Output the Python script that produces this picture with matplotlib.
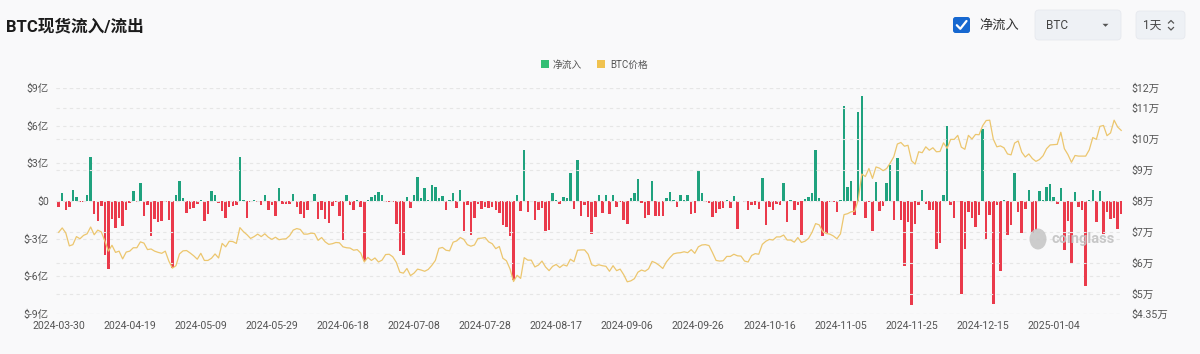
import matplotlib
matplotlib.use('Agg')
import matplotlib.pyplot as plt
from matplotlib.patches import FancyBboxPatch, Rectangle, Ellipse, Polygon
from matplotlib.lines import Line2D
import numpy as np

# ---------------- data ----------------
start_date = '2024-03-30'
# net spot flow, in 亿 USD (one bar per day, 300 days)
net_flow = [
    -0.5, 0.65, -0.7, -0.5, 0.9, 0.35, -0.05, -0.05, 0.5, 3.5,
    -1.0, -1.6, -0.4, -4.3, -5.4, -1.4, -2.15, -1.35, -2.0, -0.7,
    -0.15, 0.8, -0.1, 1.4, -1.2, -0.35, -2.8, -1.45, -1.7, -1.6,
    -0.05, -1.5, -5.3, 0.45, 1.6, 0.2, -0.95, -0.6, -0.55, -0.25,
    0.1, -1.6,
    -1.0, 0.8, 0.5, -0.15, -0.8, -1.35, -0.5, -0.4, -0.3, 3.5,
    0.1, -1.35, -0.05, 0.05, -0.1, -0.3, 0.5, -0.7, -0.35, -1.2,
    1.05, -0.25, -0.25, -0.25, 0.55, -0.5, -1.0, -1.35, -0.7, -0.05,
    0.55, -1.4, -0.7, -1.4, -1.75, -0.4, -0.1, -1.2, -3.1, 0.5,
    -0.3, -0.7, 0.1,
    -0.5, -4.8, 0.05, 0.3, 0.5, 0.7, 0.45, -0.1, -0.1, -0.05,
    -1.8, -4.0, -4.3, 0.3, -0.55, 0.45, 1.9, 0.2, 1.05, 0.05,
    1.25, 1.1, 0.25, 0.4, -0.75, 0.05, 0.65, -0.55, 0.9, -2.35,
    -0.35, -2.7, -1.35, -0.25, -0.65, -0.5, -0.55, -0.45, -0.7, -0.95,
    -1.95, -2.1, -2.75,
    -6.3, 0.45, -0.8, 4.1, -0.9, -0.05, -1.5, -0.75, -0.55, -2.4,
    -2.3, 0.6, 0.05, -0.25, 0.35, 0.2, 2.2, -0.6, 3.3, -1.2,
    -0.35, -1.3, -2.6, -1.3, 0.45, -0.95, 0.45, -1.05, 0.5, -0.5,
    -0.05, -1.5, -1.8, 0.25, 0.6, 1.75, -0.15, -1.35, -1.1, 1.6,
    -1.2, -1.2, -1.2,
    0.25, 0.7, 0.1, -0.5, 0.5, 0.1, 0.45, -1.05, -0.95, 2.35,
    0.6, -0.05, -0.15, -1.3, -0.95, -0.65, -0.55, 0.1, -0.55, 0.4,
    -2.2, 0.02, -0.05, -0.75, -0.35, -0.35, -0.6, 1.8, -1.9, -0.45,
    -0.75, -0.25, -0.35, 1.45, -1.7, 0.05, -0.7, -0.35, -2.7, 0.15,
    0.35, 0.6, 4.1,
    0.25, -2.75, -2.55, -0.05, -0.1, -0.9, 0.05, 7.6, 1.15, 1.6,
    -1.1, 7.1, 8.4, -1.35, -0.05, -2.35, 1.55, -0.8, -0.4, 1.45,
    2.85, -1.5, 3.4, -1.5, -5.15, -1.65, -8.3, -1.8, -0.3, 0.9,
    -0.25, -0.75, -0.75, -3.8, -3.35, 0.45, 6.0, -0.35, -1.35, -0.1,
    -7.4, -3.8,
    -0.9, -1.35, -2.1, -1.1, 5.7, -3.0, -1.15, -8.2, -0.35, -5.6,
    0.05, -2.7, -1.9, 2.2, -0.9, -2.55, -0.65, 0.85, -2.55, -2.3,
    0.8, 0.05, 1.1, 1.35, 0.3, -0.25, 1.0, -3.9, -1.6, -5.0,
    0.7, -0.5, -0.7, -6.8, 0.1, 0.9, -1.65, 0.8, -2.6, -0.9,
    -1.4, -1.35, -2.2, -1.0,
]

# BTC price, USD
btc_price = [
    69900, 71300,
    69700, 65500, 65900, 68500, 67800, 68900, 69400, 71600, 69100, 70600,
    70000, 67100, 63800, 65700, 63400, 63800, 61300, 63500, 63800, 64900,
    64900, 66800, 66400, 64300, 64500, 63800, 63400, 63100, 63800, 60600,
    58300, 59100, 62900, 63900, 64000, 63200, 62300, 61200, 63100, 60800,
    60800, 61500, 62900, 61600, 66300, 65200, 67000, 66900, 66300, 71400,
    70100, 69100, 67900, 68500, 69300, 68500, 69400, 68300, 67600, 68300,
    67500,
    67700, 67800, 68800, 70600, 71100, 70800, 69300, 69300, 69600, 69500,
    67300, 68200, 66800, 66000, 66200, 66600, 66500, 65200, 64900, 64800,
    64100, 64300, 63200, 60300, 61800, 60800, 61600, 60300, 60900, 62700,
    62800, 62000, 60200, 57000, 56700, 58200, 55900, 56700, 58000, 57700,
    57300, 57900, 59200, 60800, 64700, 65000, 64100, 63900, 66700, 67100,
    68200, 67600, 65900, 65400, 65800, 67900, 68000, 68200, 66800, 66200,
    64600,
    65300, 61500, 60700, 58100, 54000, 56000, 55000, 61700, 60900, 60900,
    58700, 59300, 60600, 58700, 57500, 58900, 59500, 58500, 59400, 59000,
    61200, 60400, 64100, 64200, 64200, 62800, 59400, 59000, 59400, 59100,
    58900,
    57300, 59100, 57500, 58000, 56200, 53900, 54200, 54900, 57000, 57700,
    57300, 58100, 60500, 60000, 59200, 58200, 60300, 61700, 62900, 63200,
    63300, 63600, 63300, 64300, 63100, 65200, 65800, 65900, 65600, 63300,
    60800, 60600, 60700, 62100, 62100, 62800, 62300, 62200, 60600, 60300,
    62400, 63000, 62800, 66000, 67000, 67600, 67400, 68400, 68400, 69000,
    67400, 67400, 66700, 68200, 66600, 67000, 67900, 69900, 72700, 72300,
    70200,
    69500, 69300, 68700, 67800, 69400, 75600, 75900, 76500, 76700, 80400,
    88700, 87900, 90500, 87300, 91000, 90600, 89800, 90500, 92300, 94300,
    98400, 98900, 97700, 98000, 93000, 91900, 95900, 95600, 97500, 96400,
    97200, 95900, 96000, 98800, 97000, 99900, 99900, 101200, 97400, 96700,
    101200, 100000, 101500, 101400, 104300, 106000, 106100, 100000, 97500, 97800,
    97200, 95200, 94900, 98700, 99400, 95800, 94200, 95200, 93700, 92800,
    93400,
    94600, 96900, 98100, 98200, 98300, 102200, 96900, 95000, 92500, 94700,
    94500, 94500, 94500, 96500, 100500, 99900, 104100, 104400, 101100, 102000,
    106100, 103900, 102800,
]

x_tick_pos = [0, 20, 40, 60, 80, 100, 120, 140, 160, 180, 200, 220, 240, 260, 280]
x_tick_labels = ['2024-03-30', '2024-04-19', '2024-05-09', '2024-05-29', '2024-06-18',
                 '2024-07-08', '2024-07-28', '2024-08-17', '2024-09-06', '2024-09-26',
                 '2024-10-16', '2024-11-05', '2024-11-25', '2024-12-15', '2025-01-04']
left_ticks = [9, 6, 3, 0, -3, -6, -9]
left_labels = ['$9亿', '$6亿', '$3亿', '$0', '$-3亿', '$-6亿', '$-9亿']
right_ticks = [116500, 110000, 100000, 90000, 80000, 70000, 60000, 50000, 43500]
right_labels = ['$12万', '$11万', '$10万', '$9万', '$8万', '$7万', '$6万', '$5万', '$4.35万']
legend_labels = ['净流入', 'BTC价格']

# ---------------- style ----------------
BG = '#f9f9fa'
GREEN = '#1fa27e'
RED = '#ea3a4b'
LINE = '#ecc66e'
LEG_GREEN = '#33bf74'
LEG_YELLOW = '#f0c24f'
GRID = '#e6e6e6'
FONT = ['Roboto', 'Noto Sans CJK SC', 'DejaVu Sans']
plt.rcParams['font.family'] = FONT

W, H = 1200, 354
fig = plt.figure(figsize=(W / 100, H / 100), dpi=100, facecolor=BG)

L, R, T, B = 56, 1123, 88, 314
ax = fig.add_axes([L / W, 1 - B / H, (R - L) / W, (B - T) / H])
ax.set_facecolor(BG)
n = len(net_flow)
x = np.arange(n)
colors = [GREEN if v >= 0 else RED for v in net_flow]
ax.bar(x, net_flow, width=0.7, color=colors, zorder=3, linewidth=0)
ax.set_ylim(-9, 9)
ax.set_xlim(-0.75, n - 0.5)
for t in left_ticks:
    ax.axhline(t, color=GRID, lw=0.8, ls=(0, (3, 3)), zorder=1)
ax.set_yticks(left_ticks)
ax.set_yticklabels(left_labels)
ax.set_xticks(x_tick_pos)
ax.set_xticklabels(x_tick_labels)
ax.tick_params(axis='both', length=0, labelsize=7.6, colors='#555555')
ax.tick_params(axis='x', pad=5)
ax.tick_params(axis='y', pad=5)
for s in ax.spines.values():
    s.set_visible(False)

ax2 = ax.twinx()
ax2.plot(x, btc_price, color=LINE, lw=0.9, zorder=4)
ax2.set_ylim(43500, 116500)
for t in right_ticks:
    ax2.axhline(t, color=GRID, lw=0.8, ls=(0, (3, 3)), zorder=1)
ax2.set_yticks(right_ticks)
ax2.set_yticklabels(right_labels)
ax2.tick_params(axis='y', length=0, labelsize=7.6, colors='#555555', pad=6)
for s in ax2.spines.values():
    s.set_visible(False)

# ---------------- overlay (pixel coordinates) ----------------
ov = fig.add_axes([0, 0, 1, 1])
ov.set_xlim(0, W)
ov.set_ylim(H, 0)
ov.axis('off')
ov.patch.set_alpha(0)

ov.text(6, 27, 'BTC现货流入/流出', fontsize=12, fontweight='bold', color='#1b1b1b',
        va='center', ha='left')

# checkbox
ov.add_patch(FancyBboxPatch((953, 17), 17, 16, boxstyle='round,pad=0,rounding_size=2.5',
                            fc='#1768d0', ec='none'))
ov.add_line(Line2D([956.8, 960.3, 966.5], [25.2, 28.8, 21.0], color='white', lw=1.6,
                   solid_capstyle='round', solid_joinstyle='round'))
ov.text(979, 25.5, '净流入', fontsize=9.5, color='#333333', va='center', ha='left')

# dropdown
ov.add_patch(FancyBboxPatch((1035, 10), 86, 30, boxstyle='round,pad=0,rounding_size=4',
                            fc='#eef1f5', ec='#e6e9ee', lw=0.6))
ov.text(1046, 25.5, 'BTC', fontsize=8.5, color='#444444', va='center', ha='left')
ov.add_patch(Polygon([(1102.5, 23.8), (1108.5, 23.8), (1105.5, 26.8)], closed=True,
                     fc='#555555', ec='none'))

# interval selector
ov.add_patch(FancyBboxPatch((1136, 11), 49, 28, boxstyle='round,pad=0,rounding_size=4',
                            fc='#eef1f5', ec='#e6e9ee', lw=0.6))
ov.text(1143, 25.5, '1天', fontsize=8.5, color='#444444', va='center', ha='left')
ov.add_line(Line2D([1168.5, 1171, 1173.5], [23, 20.5, 23], color='#555555', lw=0.9))
ov.add_line(Line2D([1168.5, 1171, 1173.5], [27.5, 30, 27.5], color='#555555', lw=0.9))

# legend
ov.add_patch(Rectangle((541, 60), 8, 8, fc=LEG_GREEN, ec='none'))
ov.text(553, 64.5, legend_labels[0], fontsize=7, color='#555555', va='center', ha='left')
ov.add_patch(Rectangle((597, 60), 8, 8, fc=LEG_YELLOW, ec='none'))
ov.text(610, 64.5, legend_labels[1], fontsize=7, color='#555555', va='center', ha='left')

# watermark
ov.add_patch(Ellipse((1038, 239), 17, 21, fc='#c4c4c4', ec='none', alpha=0.85))
ov.text(1052, 239, 'coinglass', fontsize=10.5, fontweight='bold', color='#c2c2c2',
        va='center', ha='left', alpha=0.9)

fig.savefig('out.png', dpi=100, facecolor=BG)
